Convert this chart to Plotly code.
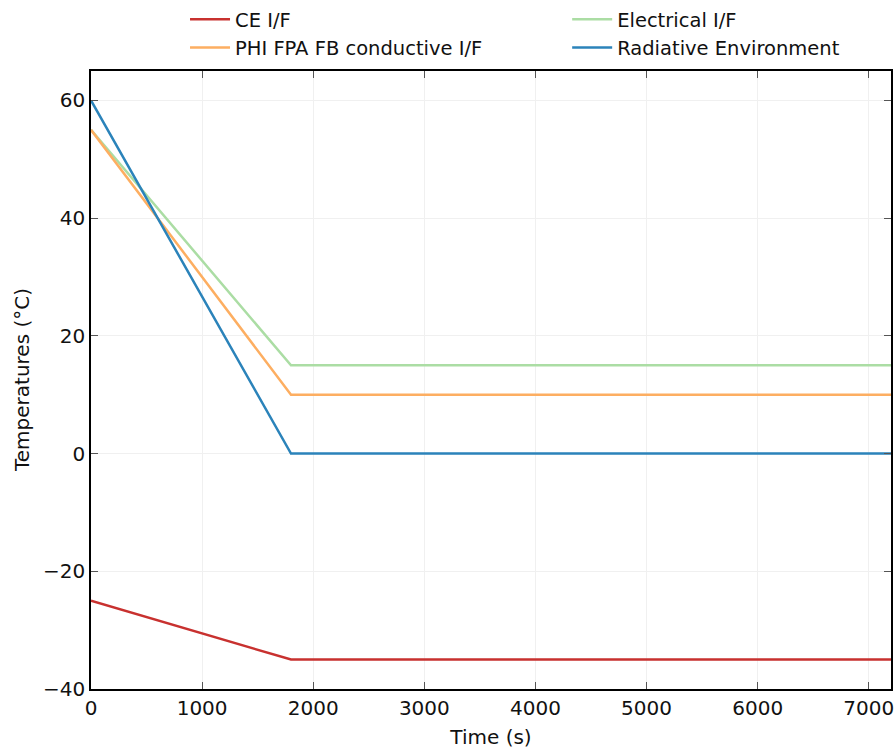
import plotly.graph_objects as go

time_s = [0, 1800, 7200]
ce_if = [-25, -35, -35]
electrical_if = [55, 15, 15]
phi_fpa_if = [55, 10, 10]
radiative_env = [60, 0, 0]

names = ["CE I/F", "Electrical I/F", "PHI FPA FB conductive I/F", "Radiative Environment"]
colors = ["#c8312f", "#abdda4", "#fdae61", "#2b83ba"]
legends = ["legend", "legend2", "legend", "legend2"]
series = [ce_if, electrical_if, phi_fpa_if, radiative_env]

fig = go.Figure()
for name, col, lg, ys in zip(names, colors, legends, series):
    fig.add_trace(go.Scatter(x=time_s, y=ys, mode="lines", name=name,
                             line=dict(color=col, width=2.5), legend=lg))

font = dict(family="DejaVu Sans", size=20, color="#111111")
axis_common = dict(showline=True, linecolor="black", linewidth=1.5, mirror="allticks",
                   ticks="inside", ticklen=7, tickcolor="#555555", tickwidth=1,
                   showgrid=True, gridcolor="#f0f0f0", gridwidth=1, zeroline=False,
                   tickfont=font)

legfont = dict(family="DejaVu Sans", size=19.5, color="#111111")
fig.update_layout(
    width=896, height=749,
    margin=dict(l=91, r=5, t=71, b=60, autoexpand=False),
    plot_bgcolor="white", paper_bgcolor="white",
    font=font,
    xaxis=dict(range=[0, 7200], dtick=1000, title=dict(text="Time (s)", font=font),
               **axis_common),
    yaxis=dict(range=[-40, 65], tickvals=[-40, -20, 0, 20, 40, 60],
               ticktext=["\u221240", "\u221220", "0", "20", "40", "60"],
               **axis_common),
    legend=dict(x=0.2065, y=1.006, xref="container", yref="container", xanchor="left", yanchor="top",
                orientation="v", bgcolor="rgba(0,0,0,0)", font=legfont,
                tracegroupgap=0, itemwidth=40),
    legend2=dict(x=0.633, y=1.006, xref="container", yref="container", xanchor="left", yanchor="top",
                 orientation="v", bgcolor="rgba(0,0,0,0)", font=legfont,
                 tracegroupgap=0, itemwidth=40),
    showlegend=True,
    annotations=[dict(text="Temperatures (\u00b0C)", xref="paper", yref="paper",
                      x=-0.0862, y=0.5, xanchor="center", yanchor="middle",
                      textangle=-90, showarrow=False, font=font)],
)

fig.write_html("out.html")
